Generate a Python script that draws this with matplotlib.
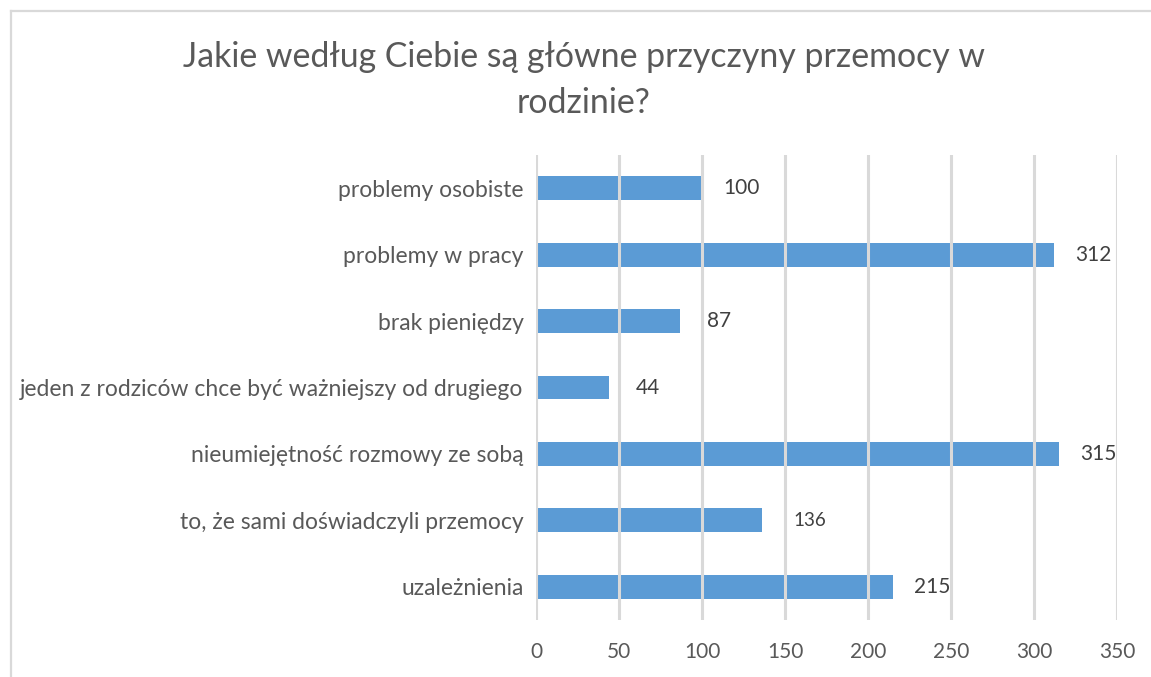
import matplotlib
import matplotlib.pyplot as plt
from matplotlib.lines import Line2D

matplotlib.use('Agg')

plt.rcParams['font.family'] = ['Lato', 'DejaVu Sans']

categories = [
    'problemy osobiste',
    'problemy w pracy',
    'brak pieniędzy',
    'jeden z rodziców chce być ważniejszy od drugiego',
    'nieumiejętność rozmowy ze sobą',
    'to, że sami doświadczyli przemocy',
    'uzależnienia',
]
values = [100, 312, 87, 44, 315, 136, 215]
x_ticks = [0, 50, 100, 150, 200, 250, 300, 350]

title = 'Jakie według Ciebie są główne przyczyny przemocy w\nrodzinie?'
text_color = '#595959'
grid_color = '#D9D9D9'
bar_color = '#5B9BD5'

fig = plt.figure(figsize=(11.51, 6.77), dpi=100)
ax = fig.add_axes([0.4657, 0.0842, 0.5048, 0.6868])

ypos = list(range(len(categories)))
ax.barh(ypos, values, height=0.36, color=bar_color, zorder=1)

# value labels to the right of each bar
for y, v in zip(ypos, values):
    offset = 48 if v == 136 else 39
    size = 13.5 if v == 136 else 15
    ax.annotate(str(v), (v, y), xytext=(offset, 0), textcoords='offset pixels',
                ha='center', va='center', fontsize=size, color='#404040')

ax.set_xlim(0, 350)
ax.set_ylim(len(categories) - 0.5, -0.5)
ax.set_yticks(ypos)
ax.set_yticklabels(categories, fontsize=16.5)
ax.set_xticks(x_ticks)
ax.tick_params(axis='both', length=0, labelcolor=text_color)
ax.tick_params(axis='x', pad=16, labelsize=15)
ax.tick_params(axis='y', pad=9)

ax.set_axisbelow(False)
ax.grid(axis='x', color=grid_color, linewidth=2.2, zorder=2)
ax.grid(axis='y', visible=False)
for s in ax.spines.values():
    s.set_visible(False)

fig.text(0.507, 0.882, title, ha='center', va='center', fontsize=24.4,
         color=text_color, linespacing=1.55)

# outer chart frame (left and top edges)
W, H = 1151, 677
fig.add_artist(Line2D([11 / W, 11 / W], [0, 1 - 11 / H], color=grid_color,
                      linewidth=1.6, transform=fig.transFigure))
fig.add_artist(Line2D([11 / W, 1], [1 - 11 / H, 1 - 11 / H], color=grid_color,
                      linewidth=1.6, transform=fig.transFigure))

fig.savefig('out.png', dpi=100)
plt.close(fig)
